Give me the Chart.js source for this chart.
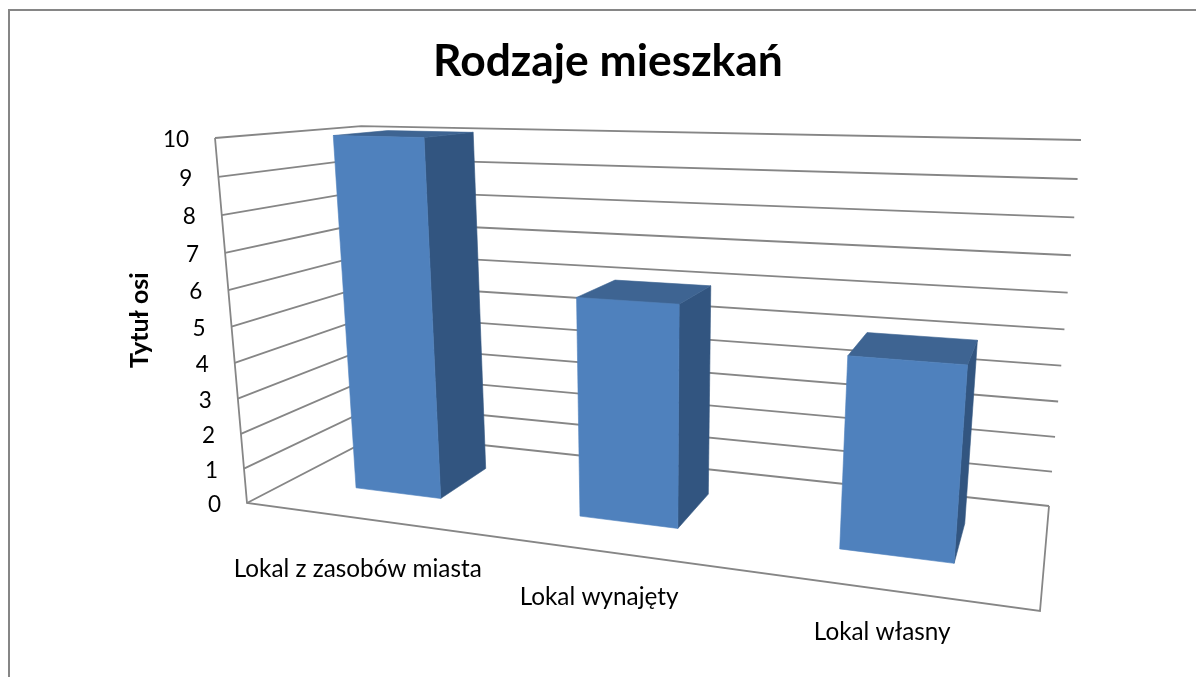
<!DOCTYPE html>
<html>
<head>
<meta charset="utf-8">
<style>html,body{margin:0;padding:0;background:#fff}canvas{display:block}</style>
<script src="https://cdn.jsdelivr.net/npm/chart.js@4"></script>
</head>
<body>
<canvas id="c" width="1196" height="677"></canvas>
<script>
const chartTitle = 'Rodzaje mieszkań';
const axisTitle = 'Tytuł osi';
const categories = ['Lokal z zasobów miasta', 'Lokal wynajęty', 'Lokal własny'];
const values = [10, 6, 5];
const yMin = 0, yMax = 10, yStep = 1;

const FONT = 'Lato, Carlito, Calibri, sans-serif';
const GRID = '#868686';
const FRONT = '#4F81BD', SIDE = '#325580', TOP = '#3E6492';

/* Box of the 3-D view: where the corners of the plot volume land on the page. */
const floorFrontLeft = [247, 503], floorFrontRight = [1040, 611], floorBackRight = [1049, 506], floorBackLeft = [380, 434];
const topFrontLeft = [215, 138], topBackRight = [1081, 140];
const kappa = -0.066, barDepthFront = 0.30, barDepthBack = 0.70, barShiftU = 0.004;

function makeProjection() {
  const [x0, y0] = floorFrontLeft, [x1, y1] = floorFrontRight, [x2, y2] = floorBackRight, [x3, y3] = floorBackLeft;
  const dx1 = x1 - x2, dx2 = x3 - x2, sx = x0 - x1 + x2 - x3;
  const dy1 = y1 - y2, dy2 = y3 - y2, sy = y0 - y1 + y2 - y3;
  const den = dx1 * dy2 - dx2 * dy1;
  const g = (sx * dy2 - dx2 * sy) / den, h = (dx1 * sy - sx * dy1) / den;
  const a = x1 - x0 + g * x1, b = x3 - x0 + h * x3, c = x0;
  const d = y1 - y0 + g * y1, e = y3 - y0 + h * y3, f = y0;
  const Vx = topFrontLeft[0] * (1 + kappa) - x0, Vy = topFrontLeft[1] * (1 + kappa) - y0;
  const w11 = 1 + g + h;
  const Dx = topBackRight[0] * (w11 + kappa) - x2 * w11 - Vx;
  const Dy = topBackRight[1] * (w11 + kappa) - y2 * w11 - Vy;
  return (u, v, z) => {
    const w = g * u + h * z + 1 + kappa * v;
    return [(a * u + b * z + c + v * (Vx + u * Dx)) / w, (d * u + e * z + f + v * (Vy + u * Dy)) / w];
  };
}
const project = makeProjection();

function poly(ctx, pts, fill) {
  ctx.beginPath();
  pts.forEach((p, i) => i ? ctx.lineTo(p[0], p[1]) : ctx.moveTo(p[0], p[1]));
  ctx.closePath();
  ctx.fillStyle = fill;
  ctx.strokeStyle = fill;
  ctx.lineWidth = 0.6;
  ctx.fill();
  ctx.stroke();
}
function path(ctx, pts) {
  ctx.beginPath();
  pts.forEach((p, i) => i ? ctx.lineTo(p[0], p[1]) : ctx.moveTo(p[0], p[1]));
  ctx.stroke();
}

const view3d = {
  id: 'view3d',
  beforeDraw(chart) {
    const ctx = chart.ctx, area = chart.chartArea, ys = chart.scales.y;
    ctx.save();
    ctx.fillStyle = '#fff';
    ctx.fillRect(0, 0, chart.width, chart.height);
    ctx.strokeStyle = GRID;
    ctx.lineWidth = 2;
    path(ctx, [[9, chart.height], [9, 10], [chart.width, 10]]);
    ctx.lineWidth = 1.8;
    ys.ticks.forEach(t => {
      const v = (area.bottom - ys.getPixelForValue(t.value)) / area.height;
      path(ctx, [project(0, v, 0), project(0, v, 1), project(1, v, 1)]);
    });
    path(ctx, [project(0, 1, 0), project(0, 0, 0), project(1, 0, 0), project(1, 0, 1)]);
    ctx.restore();
  },
  beforeDatasetDraw() { return false; },
  afterDatasetsDraw(chart) {
    const ctx = chart.ctx, area = chart.chartArea, xs = chart.scales.x, ys = chart.scales.y;
    ctx.save();
    chart.getDatasetMeta(0).data.forEach(el => {
      const p = el.getProps(['x', 'y', 'width'], true);
      const u0 = (p.x - p.width / 2 - area.left) / area.width + barShiftU;
      const u1 = (p.x + p.width / 2 - area.left) / area.width + barShiftU;
      const v = (area.bottom - p.y) / area.height;
      const zf = barDepthFront, zb = barDepthBack;
      poly(ctx, [project(u1, 0, zf), project(u1, 0, zb), project(u1, v, zb), project(u1, v, zf)], SIDE);
      poly(ctx, [project(u0, v, zf), project(u1, v, zf), project(u1, v, zb), project(u0, v, zb)], TOP);
      poly(ctx, [project(u0, 0, zf), project(u1, 0, zf), project(u1, v, zf), project(u0, v, zf)], FRONT);
    });
    ctx.fillStyle = '#000';
    ctx.textBaseline = 'middle';
    ctx.font = '22.5px ' + FONT;
    ctx.textAlign = 'right';
    ys.ticks.forEach(t => {
      const v = (area.bottom - ys.getPixelForValue(t.value)) / area.height;
      const q = project(0, v, 0);
      ctx.fillText(t.label, q[0] - 26, q[1] + 2);
    });
    ctx.textAlign = 'center';
    ctx.font = '24.3px ' + FONT;
    chart.data.labels.forEach((lab, i) => {
      const u = (xs.getPixelForValue(i) - area.left) / area.width;
      const q = project(u, 0, 0);
      ctx.fillText(lab, q[0] + 3, q[1] + 53 - 12 * u);
    });
    ctx.restore();
  }
};

new Chart(document.getElementById('c'), {
  type: 'bar',
  data: {
    labels: categories,
    datasets: [{ data: values, backgroundColor: FRONT, barPercentage: 0.395, categoryPercentage: 1 }]
  },
  plugins: [view3d],
  options: {
    responsive: false,
    animation: false,
    layout: { padding: { left: 20, right: 0, top: 0, bottom: 169 } },
    plugins: {
      legend: { display: false },
      tooltip: { enabled: false },
      title: {
        display: true,
        text: chartTitle,
        color: '#000',
        font: { family: FONT, size: 44.4, weight: 'bold' },
        padding: { top: 35, bottom: 52 }
      }
    },
    scales: {
      x: { ticks: { display: false }, grid: { display: false }, border: { display: false } },
      y: {
        min: yMin, max: yMax,
        ticks: { display: false, stepSize: yStep },
        grid: { display: false },
        border: { display: false },
        title: {
          display: true,
          text: axisTitle,
          color: '#000',
          font: { family: FONT, size: 25, weight: 'bold' },
          padding: { top: 105, bottom: 2 }
        }
      }
    }
  }
});
</script>
</body>
</html>
